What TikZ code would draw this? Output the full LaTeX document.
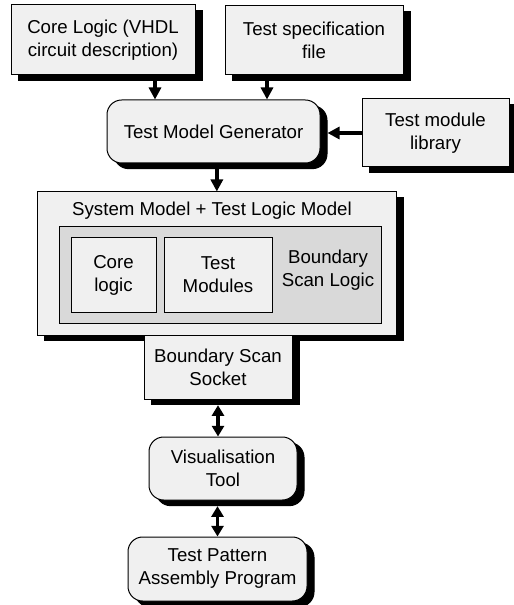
\documentclass[tikz,border=0pt]{standalone}
\usepackage{fontspec}
\setmainfont{Liberation Sans}
\usetikzlibrary{arrows.meta}

\definecolor{boxfill}{gray}{0.94}
\definecolor{scanfill}{gray}{0.85}

\tikzset{
  blk/.style={draw, line width=0.75pt, fill=boxfill, align=center, inner sep=0pt,
    preaction={fill=black, draw=black, transform canvas={shift={(5.25pt,-4.25pt)}}}},
  rblk/.style={blk, rounded corners=11pt},
  inblk/.style={draw, line width=0.75pt, fill=boxfill, align=center, inner sep=0pt},
  arr/.style={line width=2.5pt, -{Triangle[length=9pt,width=9pt]}},
  darr/.style={line width=2.5pt, {Triangle[length=8pt,width=9pt]}-{Triangle[length=8pt,width=9pt]}}
}

\begin{document}
\begin{tikzpicture}[x=0.75pt,y=-0.75pt,font=\fontsize{14}{17.25}\selectfont]
\useasboundingbox (0,0) rectangle (513,605);

% sources
\node[blk, minimum width=138pt, minimum height=52.5pt] (core) at (103,40)
  {Core Logic (VHDL\\circuit description)};
\node[blk, minimum width=133.5pt, minimum height=51.75pt] (spec) at (314,40)
  {Test specification\\file};
\node[rblk, minimum width=159.75pt, minimum height=47.25pt] (gen) at (213.5,131.5)
  {Test Model Generator};
\node[blk, minimum width=110.25pt, minimum height=51pt] (lib) at (435.5,133)
  {Test module\\library};

% system model
\node[blk, minimum width=269.25pt, minimum height=107.25pt] (sys) at (216.5,263.5) {};
\node (systitle) at (212,211) {System Model + Test Logic Model};
\node[inblk, fill=scanfill, minimum width=241.5pt, minimum height=72pt] (scan) at (220,275) {};
\node[inblk, minimum width=63.75pt, minimum height=55.5pt] (corelogic) at (113.5,275) {Core\\logic};
\node[inblk, minimum width=81pt, minimum height=55.5pt] (testmod) at (218,275) {Test\\Modules};
\node[align=center] (scantext) at (328,270) {Boundary\\Scan Logic};
\node[blk, minimum width=111pt, minimum height=48pt] (socket) at (218,367)
  {Boundary Scan\\Socket};

% tools
\node[rblk, minimum width=111pt, minimum height=47.25pt] (vis) at (223,468.5)
  {Visualisation\\Tool};
\node[rblk, minimum width=134.25pt, minimum height=48pt] (tpa) at (217.5,569)
  {Test Pattern\\Assembly Program};

% connectors
\draw[arr] ([xshift=39pt]core.south) -- ([xshift=39pt]core.south |- gen.north);
\draw[arr] ([xshift=-35.25pt]spec.south) -- ([xshift=-35.25pt]spec.south |- gen.north);
\draw[arr] (lib.west) -- ([xshift=5.25pt]lib.west -| gen.east);
\draw[arr] ([xshift=2.5pt,yshift=-4.25pt]gen.south) -- ([xshift=2.5pt]gen.south |- sys.north);
\draw[darr] ([yshift=-4.25pt]socket.south) -- (socket.south |- vis.north);
\draw[darr] ([yshift=-4.25pt]tpa.north |- vis.south) -- (tpa.north);
\end{tikzpicture}
\end{document}
